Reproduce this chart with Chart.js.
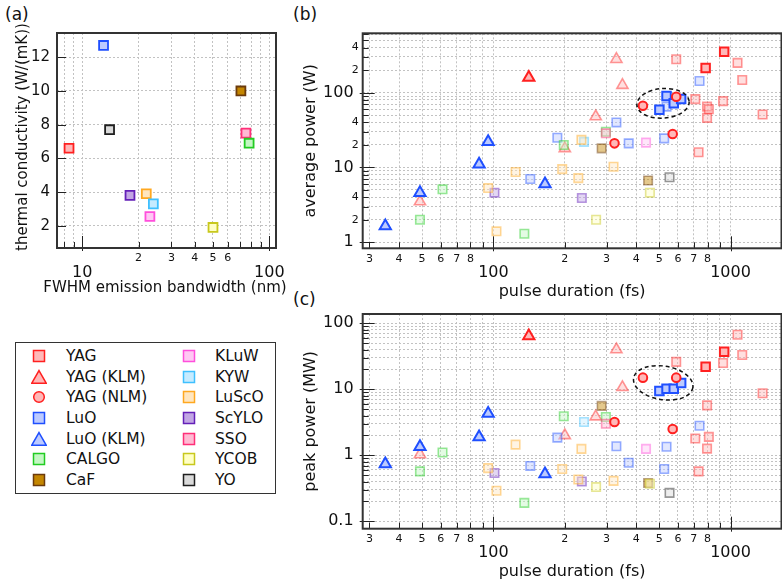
<!DOCTYPE html>
<html>
<head>
<meta charset="utf-8">
<title>Yb host crystals</title>
<script src="https://cdn.jsdelivr.net/npm/chart.js@4.4.1/dist/chart.umd.min.js"></script>
<style>
  body { margin: 0; width: 782px; height: 584px; overflow: hidden; position: relative; background: #fff;
         font-family: "DejaVu Sans", sans-serif; color: #111; }
  canvas { position: absolute; }
  .tag { position: absolute; font-size: 17px; line-height: 17px; }
  .axis-title { position: absolute; font-size: 15px; line-height: 18px; white-space: nowrap;
                transform: translate(-50%, -50%); }
  .axis-title.vert { transform: translate(-50%, -50%) rotate(-90deg); }
  #legend { position: absolute; left: 15px; top: 342px; width: 261px; height: 152px;
            border: 1px solid #333; box-sizing: border-box; }
  #legend svg { position: absolute; }
  .item { position: absolute; font-size: 15.5px; line-height: 18px; height: 18px; white-space: nowrap; }
</style>
</head>
<body>
<div class="tag" style="left:5px;top:6px">(a)</div>
<div class="tag" style="left:293px;top:6px">(b)</div>
<div class="tag" style="left:293px;top:291px">(c)</div>
<canvas id="bandChart" width="290" height="300" style="left:0;top:0"></canvas>
<canvas id="avgChart" width="500" height="302" style="left:290px;top:0"></canvas>
<canvas id="peakChart" width="500" height="294" style="left:290px;top:290px"></canvas>
<div class="axis-title" style="left:165px;top:287px">FWHM emission bandwidth (nm)</div>
<div class="axis-title vert" style="left:22px;top:137px">thermal conductivity (W/(mK))</div>
<div id="legend"></div>
<script>
// (a) thermal conductivity vs emission bandwidth, one point per host
const hostNames    = ['YAG', 'LuO', 'CALGO', 'CaF', 'KLuW', 'KYW', 'LuScO', 'ScYLO', 'SSO', 'YCOB', 'YO'];
const bandwidth    = [8.5, 13, 78, 70.5, 23, 24, 22, 18, 75, 50, 14];
const conductivity = [6.6, 12.7, 6.9, 10, 2.55, 3.3, 3.9, 3.8, 7.5, 1.9, 7.7];

// (b)/(c) pulse duration (fs), average power (W), peak power (MW)
const yagDur  = [590, 1070, 1120, 710, 930, 796, 810, 796, 1365, 733];
const yagAvg  = [280, 250, 148, 82, 77, 65, 60, 46, 51, 16];
const yagPeak = [26, 67, 33, 1.8, 25, 5.7, 1.9, 1.26, 8.7, 0.57];
const yagHiDur  = [940, 785];
const yagHiAvg  = [353, 214];
const yagHiPeak = [37, 22];

const yagKlmHiDur  = [141];
const yagKlmHiAvg  = [160];
const yagKlmHiPeak = [64];
const yagKlmDur  = [330, 350, 270, 200, 49];
const yagKlmAvg  = [280, 126, 48, 18, 3.5];
const yagKlmPeak = [40, 10.7, 3.85, 2.0, 1.03];

const yagNlmDur  = [427, 590, 324, 570];
const yagNlmAvg  = [67, 88, 21, 28];
const yagNlmPeak = [15, 15, 3.2, 2.5];

const luoHiDur  = [501, 537, 576, 619];
const luoHiAvg  = [59, 90, 72, 82];
const luoHiPeak = [9.4, 10.2, 10.2, 12.4];
const luoDur  = [740, 330, 186, 372, 525, 143, 537];
const luoAvg  = [143, 40, 25, 21, 24.5, 7, 65];
const luoPeak = [2.8, 1.37, 1.85, 0.77, 0.62, 0.69, 1.35];

const luoKlmDur  = [95, 87, 49, 35, 165];
const luoKlmAvg  = [22, 11, 4.6, 1.65, 6.0];
const luoKlmPeak = [4.3, 1.9, 1.35, 0.74, 0.52];

const calgoDur  = [61, 49, 135, 198, 298];
const calgoAvg  = [5.1, 2.0, 1.3, 20, 30];
const calgoPeak = [1.1, 0.57, 0.19, 3.9, 3.8];
const cafDur  = [286, 449];
const cafAvg  = [18, 6.7];
const cafPeak = [5.6, 0.38];
const kluwDur  = [440];
const kluwAvg  = [21.5];
const kluwPeak = [1.25];
const kywDur  = [241];
const kywAvg  = [22];
const kywPeak = [3.2];
const luscoDur  = [235, 124, 195, 228, 321, 95, 103];
const luscoAvg  = [23.4, 8.7, 9.5, 7.2, 10.2, 5.3, 1.4];
const luscoPeak = [1.25, 1.45, 0.62, 0.43, 0.41, 0.64, 0.29];
const scyloDur  = [101, 236];
const scyloAvg  = [4.6, 3.9];
const scyloPeak = [0.54, 0.4];
const ssoDur  = [298];
const ssoAvg  = [28.6];
const ssoPeak = [3.0];
const ycobDur  = [457, 271];
const ycobAvg  = [4.6, 2.0];
const ycobPeak = [0.37, 0.33];
const yoDur  = [553];
const yoAvg  = [7.4];
const yoPeak = [0.27];

// tick values and labels
const bwTicks = [8, 9, 10, 20, 30, 40, 50, 60, 70, 80, 90, 100];
const bwTickLabels = ['', '', '10', '2', '3', '4', '5', '6', '', '', '', '100'];
const tcTicks = [2, 4, 6, 8, 10, 12];
const tcTickLabels = ['2', '4', '6', '8', '10', '12'];
const durTicks = [30, 40, 50, 60, 70, 80, 90, 100, 200, 300, 400, 500, 600, 700, 800, 900, 1000];
const durTickLabels = ['3', '4', '5', '6', '7', '8', '', '100', '2', '3', '4', '5', '6', '7', '8', '', '1000'];
const avgTicks = [1, 2, 3, 4, 5, 6, 7, 8, 9, 10, 20, 30, 40, 50, 60, 70, 80, 90, 100, 200, 300, 400, 500, 600];
const avgTickLabels = ['1', '2', '', '4', '', '', '', '', '', '10', '2', '', '4', '', '', '', '', '', '100', '2', '', '4', '', ''];
const peakTicks = [0.1, 0.2, 0.3, 0.4, 0.5, 0.6, 0.7, 0.8, 0.9, 1, 2, 3, 4, 5, 6, 7, 8, 9,
                   10, 20, 30, 40, 50, 60, 70, 80, 90, 100];
const peakTickLabels = ['0.1', '', '', '', '', '', '', '', '', '1', '', '', '', '', '', '', '', '',
                        '10', '', '', '', '', '', '', '', '', '100'];

const legendNames = ['YAG', 'YAG (KLM)', 'YAG (NLM)', 'LuO', 'LuO (KLM)', 'CALGO', 'CaF',
                     'KLuW', 'KYW', 'LuScO', 'ScYLO', 'SSO', 'YCOB', 'YO'];

// [outline, fill] per host
const hostColors = {
  YAG:   ['#ff2020', '#ffb8b8'],
  LuO:   ['#1f4fff', '#bccaff'],
  CALGO: ['#22cc22', '#c4f7c4'],
  CaF:   ['#6b3a0c', '#c48600'],
  KLuW:  ['#ff4fdc', '#ffc8f3'],
  KYW:   ['#3fc0ff', '#c6ebff'],
  LuScO: ['#ffa820', '#ffe6c0'],
  ScYLO: ['#6420b8', '#c2a6e4'],
  SSO:   ['#ff2f78', '#ffbad3'],
  YCOB:  ['#c8c81c', '#ffffc4'],
  YO:    ['#1e1e1e', '#dadada']
};

Chart.defaults.font.family = '"DejaVu Sans", sans-serif';
Chart.defaults.color = '#111';

function rgba(hex, a) {
  const n = parseInt(hex.slice(1), 16);
  return 'rgba(' + (n >> 16) + ',' + ((n >> 8) & 255) + ',' + (n & 255) + ',' + a + ')';
}

function isDecade(v) {
  const l = Math.log10(v);
  return Math.abs(l - Math.round(l)) < 1e-6;
}

// inward tick marks + box round the plot area
const framePlugin = {
  id: 'frame',
  beforeDatasetsDraw(chart) {
    const { ctx, chartArea: a } = chart;
    const xs = chart.scales.x, ys = chart.scales.y;
    ctx.save();
    ctx.strokeStyle = '#222';
    ctx.lineWidth = 1;
    ctx.beginPath();
    xs.ticks.forEach(t => {
      const px = Math.round(xs.getPixelForValue(t.value)) + 0.5;
      const big = isDecade(t.value);
      ctx.moveTo(px, a.bottom + (big ? 3 : 0));
      ctx.lineTo(px, a.bottom - (big ? 12 : 6));
    });
    ys.ticks.forEach(t => {
      const py = Math.round(ys.getPixelForValue(t.value)) + 0.5;
      const lin = ys.type === 'linear';
      const big = !lin && isDecade(t.value);
      ctx.moveTo(a.left - (big ? 3 : 0), py);
      ctx.lineTo(a.left + (lin ? 9 : big ? 12 : 6), py);
    });
    ctx.stroke();
    ctx.lineWidth = 2;
    ctx.strokeStyle = '#333';
    ctx.strokeRect(a.left, a.top, a.right - a.left, a.bottom - a.top);
    ctx.restore();
  }
};

// dashed ring round the thin-disk LuO group
const ringPlugin = {
  id: 'ring',
  afterDatasetsDraw(chart, args, o) {
    if (!o || o.x === undefined) return;
    const ctx = chart.ctx;
    const cx = chart.scales.x.getPixelForValue(o.x);
    const cy = chart.scales.y.getPixelForValue(o.y);
    ctx.save();
    ctx.setLineDash([4, 3]);
    ctx.lineWidth = 1.5;
    ctx.strokeStyle = '#111';
    ctx.beginPath();
    ctx.ellipse(cx, cy, o.rx, o.ry, o.angle * Math.PI / 180, 0, Math.PI * 2);
    ctx.stroke();
    ctx.restore();
  }
};

const gridStyle = { color: '#c2c2c2', lineWidth: 1, drawTicks: false };
const gridBorder = { display: false, dash: [2, 2] };
const bigX = { size: 16, lineHeight: 0.85 };
const smallX = { size: 11, lineHeight: 1.2 };
const bigY = { size: 16 };
const smallY = { size: 11 };

function marks(dur, val, host, shape, bold) {
  const c = hostColors[host];
  const a = bold ? 1 : 0.45;
  return {
    data: dur.map((d, i) => ({ x: d, y: val[i] })),
    pointStyle: shape,
    pointRadius: shape === 'circle' ? 4.3 : shape === 'triangle' ? 6.5 : 6,
    pointBackgroundColor: rgba(c[1], a),
    pointBorderColor: rgba(c[0], a),
    pointBorderWidth: bold ? 2 : 1.6,
    order: bold ? 0 : 1,
    showLine: false
  };
}

const groups = [
  ['YAG', 'triangle', true, yagKlmHiDur, yagKlmHiAvg, yagKlmHiPeak],
  ['YAG', 'circle', true, yagNlmDur, yagNlmAvg, yagNlmPeak],
  ['YAG', 'rect', true, yagHiDur, yagHiAvg, yagHiPeak],
  ['LuO', 'rect', true, luoHiDur, luoHiAvg, luoHiPeak],
  ['LuO', 'triangle', true, luoKlmDur, luoKlmAvg, luoKlmPeak],
  ['SSO', 'rect', false, ssoDur, ssoAvg, ssoPeak],
  ['YCOB', 'rect', false, ycobDur, ycobAvg, ycobPeak],
  ['KLuW', 'rect', false, kluwDur, kluwAvg, kluwPeak],
  ['LuScO', 'rect', false, luscoDur, luscoAvg, luscoPeak],
  ['KYW', 'rect', false, kywDur, kywAvg, kywPeak],
  ['ScYLO', 'rect', false, scyloDur, scyloAvg, scyloPeak],
  ['YO', 'rect', false, yoDur, yoAvg, yoPeak],
  ['CALGO', 'rect', false, calgoDur, calgoAvg, calgoPeak],
  ['CaF', 'rect', false, cafDur, cafAvg, cafPeak],
  ['LuO', 'rect', false, luoDur, luoAvg, luoPeak],
  ['YAG', 'triangle', false, yagKlmDur, yagKlmAvg, yagKlmPeak],
  ['YAG', 'rect', false, yagDur, yagAvg, yagPeak]
];

function durationAxis(height, titlePad) {
  return {
    type: 'logarithmic', position: 'bottom', min: 28.1, max: 1640, bounds: 'data',
    afterBuildTicks: s => { s.ticks = durTicks.map(v => ({ value: v })); },
    afterFit: s => { s.height = height; },
    grid: gridStyle, border: gridBorder,
    ticks: {
      autoSkip: false, maxRotation: 0, minRotation: 0, padding: 4,
      font: c => (c.tick && isDecade(c.tick.value)) ? bigX : smallX,
      callback: (v, i) => isDecade(v) ? ['', durTickLabels[i]] : durTickLabels[i]
    },
    title: { display: true, text: 'pulse duration (fs)', font: { size: 16 }, padding: { top: 0, bottom: titlePad } }
  };
}

function powerAxis(min, max, tickVals, tickLabels, title) {
  return {
    type: 'logarithmic', position: 'left', min: min, max: max, bounds: 'data',
    afterBuildTicks: s => { s.ticks = tickVals.map(v => ({ value: v })); },
    afterFit: s => { s.width = 72.7; },
    grid: gridStyle, border: gridBorder,
    ticks: {
      autoSkip: false, padding: 4,
      font: c => (c.tick && isDecade(c.tick.value)) ? bigY : smallY,
      callback: (v, i) => isDecade(v) ? tickLabels[i] + ' ' : tickLabels[i]
    },
    title: { display: true, text: title, font: { size: 16 }, padding: { top: 11.4, bottom: 0 } }
  };
}

const baseOptions = {
  responsive: false,
  animation: false,
  events: [],
  plugins: { legend: { display: false }, tooltip: { enabled: false } }
};

// (a) — axis titles are page text, they run wider than the plot box
new Chart(document.getElementById('bandChart'), {
  type: 'scatter',
  data: {
    datasets: hostNames.map((h, i) => ({
      data: [{ x: bandwidth[i], y: conductivity[i] }],
      pointStyle: 'rect',
      pointRadius: 6.3,
      pointBackgroundColor: hostColors[h][1],
      pointBorderColor: hostColors[h][0],
      pointBorderWidth: 1.8
    }))
  },
  options: {
    ...baseOptions,
    layout: { padding: { top: 33, right: 14, bottom: 0, left: 0 } },
    scales: {
      x: {
        type: 'logarithmic', min: 7.33, max: 108.6, bounds: 'data',
        afterBuildTicks: s => { s.ticks = bwTicks.map(v => ({ value: v })); },
        afterFit: s => { s.height = 52; },
        grid: gridStyle, border: gridBorder,
        ticks: {
          autoSkip: false, maxRotation: 0, minRotation: 0, padding: 4,
          font: c => (c.tick && isDecade(c.tick.value)) ? bigX : smallX,
          callback: (v, i) => isDecade(v) ? ['', bwTickLabels[i]] : bwTickLabels[i]
        }
      },
      y: {
        type: 'linear', min: 0.68, max: 13.44, bounds: 'data',
        afterBuildTicks: s => { s.ticks = tcTicks.map(v => ({ value: v })); },
        afterFit: s => { s.width = 57; },
        grid: gridStyle, border: gridBorder,
        ticks: { autoSkip: false, padding: 7, font: { size: 15 }, callback: (v, i) => tcTickLabels[i] }
      }
    }
  },
  plugins: [framePlugin]
});

// (b)
new Chart(document.getElementById('avgChart'), {
  type: 'scatter',
  data: { datasets: groups.map(g => marks(g[3], g[4], g[0], g[1], g[2])) },
  options: {
    ...baseOptions,
    layout: { padding: { top: 33.3, right: 0, bottom: 0, left: 0 } },
    plugins: { ...baseOptions.plugins, ring: { x: 519, y: 72, rx: 26.2, ry: 14.8, angle: -4 } },
    scales: {
      x: durationAxis(53.7, 0.7),
      y: powerAxis(0.83, 622, avgTicks, avgTickLabels, 'average power (W)')
    }
  },
  plugins: [framePlugin, ringPlugin]
});

// (c)
new Chart(document.getElementById('peakChart'), {
  type: 'scatter',
  data: { datasets: groups.map(g => marks(g[3], g[5], g[0], g[1], g[2])) },
  options: {
    ...baseOptions,
    layout: { padding: { top: 24, right: 0, bottom: 0, left: 0 } },
    plugins: { ...baseOptions.plugins, ring: { x: 520, y: 12.5, rx: 30, ry: 16.8, angle: 9 } },
    scales: {
      x: durationAxis(55.3, 2.7),
      y: powerAxis(0.0773, 138, peakTicks, peakTickLabels, 'peak power (MW)')
    }
  },
  plugins: [framePlugin, ringPlugin]
});

// legend box
const legendEl = document.getElementById('legend');
legendNames.forEach((name, i) => {
  const col = i < 7 ? 0 : 1;
  const cy = 13 + (i % 7) * 20.67;
  const host = name.split(' ')[0];
  const [stroke, fill] = hostColors[host];
  let glyph;
  if (name.includes('KLM')) {
    glyph = '<polygon points="8,1.6 15.2,14.2 0.8,14.2" fill="' + fill + '" stroke="' + stroke + '" stroke-width="1.5"/>';
  } else if (name.includes('NLM')) {
    glyph = '<circle cx="8" cy="8" r="5.3" fill="' + fill + '" stroke="' + stroke + '" stroke-width="1.5"/>';
  } else {
    glyph = '<rect x="2.5" y="2.5" width="11" height="11" fill="' + fill + '" stroke="' + stroke + '" stroke-width="1.5"/>';
  }
  const mx = [23, 173][col] - 8;
  const tx = [50, 199][col];
  legendEl.insertAdjacentHTML('beforeend',
    '<svg width="16" height="16" style="left:' + mx + 'px;top:' + (cy - 8) + 'px">' + glyph + '</svg>' +
    '<div class="item" style="left:' + tx + 'px;top:' + (cy - 9) + 'px">' + name + '</div>');
});
</script>
</body>
</html>
